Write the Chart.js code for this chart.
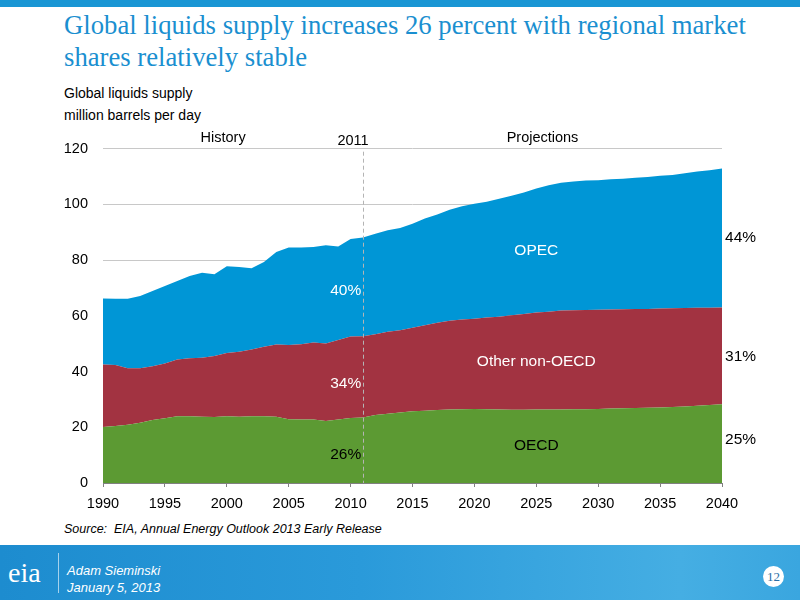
<!DOCTYPE html>
<html>
<head>
<meta charset="utf-8">
<script src="https://cdn.jsdelivr.net/npm/chart.js@4"></script>
<style>
  body { margin: 0; width: 800px; height: 600px; position: relative; overflow: hidden; background: #fff; font-family: "Liberation Sans", Arial, sans-serif; }
  .topbar { position: absolute; left: 0; top: 0; width: 800px; height: 7px; background: #1a96d4; }
  .title { position: absolute; left: 64px; top: 9px; font-family: "Liberation Serif", "Times New Roman", serif; font-size: 26.7px; line-height: 32px; color: #1a8fd0; }
  .ytitle { position: absolute; left: 64px; top: 82px; font-size: 14px; line-height: 22px; color: #000; }
  .source { position: absolute; left: 64px; top: 522px; font-size: 12.5px; font-style: italic; color: #000; }
  .footer { position: absolute; left: 0; top: 545px; width: 800px; height: 55px; background: linear-gradient(90deg, #1d8ccf 0%, #2a9ada 45%, #45aee3 85%, #3aa6df 100%); }
  .logo { position: absolute; left: 8px; top: 12px; font-family: "Liberation Serif", serif; font-size: 28px; color: #fff; }
  .sep { position: absolute; left: 58px; top: 8px; width: 1px; height: 40px; background: rgba(255,255,255,0.6); }
  .who { position: absolute; left: 67px; top: 17px; font-size: 13px; line-height: 17px; font-style: italic; color: #fff; }
  .page { position: absolute; left: 763px; top: 21px; width: 21px; height: 21px; border-radius: 50%; background: #fff; color: #2a6fa8; font-family: "Liberation Serif", serif; font-size: 13px; line-height: 21px; text-align: center; }
  .plot { position: absolute; left: 0; top: 125px; width: 800px; height: 395px; }
</style>
</head>
<body>
<div class="topbar"></div>
<div class="title">Global liquids supply increases 26 percent with regional market<br>shares relatively stable</div>
<div class="ytitle">Global liquids supply<br>million barrels per day</div>
<div class="plot">
  <canvas id="chart" width="800" height="395"></canvas>
</div>
<div class="source">Source:&nbsp; EIA, Annual Energy Outlook 2013 Early Release</div>
<div class="footer">
  <div class="logo">eia</div>
  <div class="sep"></div>
  <div class="who">Adam Sieminski<br>January 5, 2013</div>
  <div class="page">12</div>
</div>
<script>
// years shown on the chart, history to 2011 then projections
const years = [];
for (let y = 1990; y <= 2040; y++) years.push(y);

// million barrels per day
const oecd = [20.1, 20.5, 20.9, 21.6, 22.6, 23.2, 24.0, 24.0, 23.8, 23.7,
  24.0, 23.8, 24.0, 24.0, 23.8, 22.9, 22.8, 22.8, 22.3, 22.8,
  23.3, 23.5, 24.4, 24.9, 25.3, 25.8, 25.9, 26.2, 26.4, 26.5,
  26.6, 26.5, 26.4, 26.3, 26.3, 26.4, 26.4, 26.4, 26.5, 26.5,
  26.6, 26.7, 26.8, 26.9, 27.0, 27.1, 27.3, 27.5, 27.7, 28.0, 28.3];

const otherNonOecd = [22.4, 21.9, 20.3, 19.6, 19.3, 19.7, 20.3, 20.8, 21.2, 21.9,
  22.7, 23.3, 23.9, 24.9, 25.9, 26.6, 27.0, 27.6, 27.8, 28.5,
  29.3, 29.2, 29.0, 29.4, 29.5, 29.9, 30.7, 31.3, 31.8, 32.2,
  32.4, 32.9, 33.3, 33.9, 34.4, 34.8, 35.1, 35.5, 35.5, 35.6,
  35.6, 35.6, 35.6, 35.6, 35.5, 35.5, 35.4, 35.3, 35.2, 34.9, 34.7];

const opec = [23.7, 23.7, 24.9, 25.9, 27.0, 27.8, 28.2, 29.5, 30.5, 29.3,
  31.1, 30.4, 29.2, 30.4, 33.2, 35.0, 34.7, 34.3, 35.2, 33.6,
  35.0, 35.4, 36.1, 36.4, 36.7, 37.4, 38.3, 38.9, 39.9, 40.6,
  41.2, 41.6, 42.3, 42.9, 43.6, 44.5, 45.4, 45.9, 46.2, 46.5,
  46.5, 46.7, 46.8, 47.1, 47.3, 47.7, 47.9, 48.4, 48.9, 49.4, 49.9];

const yTicks = [0, 20, 40, 60, 80, 100, 120];
const xTicks = [1990, 1995, 2000, 2005, 2010, 2015, 2020, 2025, 2030, 2035, 2040];
const splitYear = 2011;

const toPoints = arr => arr.map((v, i) => ({ x: years[i], y: v }));

// text placed on the chart, in data units
const notes = [
  { text: "History", x: 1999.7, y: 124, color: "#000", size: 14.5 },
  { text: "2011", x: 2010.2, y: 122.6, color: "#000", size: 14.5 },
  { text: "Projections", x: 2025.5, y: 124, color: "#000", size: 14.5 },
  { text: "OPEC", x: 2025, y: 83.5, color: "#fff", size: 15.5 },
  { text: "Other non-OECD", x: 2025, y: 43.4, color: "#fff", size: 15.5 },
  { text: "OECD", x: 2025, y: 13.3, color: "#000", size: 15.5 },
  { text: "40%", x: 2009.6, y: 69.2, color: "#fff", size: 15.5 },
  { text: "34%", x: 2009.6, y: 35.8, color: "#fff", size: 15.5 },
  { text: "26%", x: 2009.6, y: 10, color: "#000", size: 15.5 },
  { text: "44%", x: 2041.5, y: 88.2, color: "#000", size: 15.5 },
  { text: "31%", x: 2041.5, y: 45.2, color: "#000", size: 15.5 },
  { text: "25%", x: 2041.5, y: 15.4, color: "#000", size: 15.5 }
];

const notesPlugin = {
  id: "notes",
  afterDatasetsDraw(chart) {
    const { ctx, scales: { x, y }, chartArea } = chart;
    ctx.save();
    // dashed divider between history and projections
    const sx = Math.round(x.getPixelForValue(splitYear)) + 0.5;
    ctx.strokeStyle = "#b4b4b4";
    ctx.lineWidth = 1;
    ctx.setLineDash([4, 3]);
    ctx.beginPath();
    ctx.moveTo(sx, chartArea.top + 3);
    ctx.lineTo(sx, chartArea.bottom);
    ctx.stroke();
    ctx.setLineDash([]);

    ctx.textAlign = "center";
    ctx.textBaseline = "middle";
    notes.forEach(n => {
      ctx.font = n.size + 'px "Liberation Sans", Arial, sans-serif';
      ctx.fillStyle = n.color;
      ctx.fillText(n.text, x.getPixelForValue(n.x), y.getPixelForValue(n.y));
    });
    ctx.restore();
  }
};

new Chart(document.getElementById("chart"), {
  type: "line",
  data: {
    datasets: [
      { label: "OECD", data: toPoints(oecd), backgroundColor: "#5c9a33", fill: "origin" },
      { label: "Other non-OECD", data: toPoints(otherNonOecd), backgroundColor: "#a23341", fill: "-1" },
      { label: "OPEC", data: toPoints(opec), backgroundColor: "#0096d6", fill: "-1" }
    ]
  },
  options: {
    responsive: false,
    animation: false,
    layout: { padding: { left: 0, right: 78, top: 23, bottom: 0 } },
    elements: {
      line: { borderWidth: 0, tension: 0 },
      point: { radius: 0 }
    },
    plugins: {
      legend: { display: false },
      tooltip: { enabled: false }
    },
    scales: {
      x: {
        type: "linear",
        min: 1990,
        max: 2040,
        afterBuildTicks: axis => { axis.ticks = xTicks.map(v => ({ value: v })); },
        afterFit: axis => { axis.height = 37; },
        ticks: {
          callback: v => String(v),
          color: "#000",
          font: { size: 14.5, family: '"Liberation Sans", Arial, sans-serif' },
          padding: 8,
          maxRotation: 0
        },
        grid: { drawOnChartArea: false, tickLength: 4, tickColor: "#808080" },
        border: { color: "#808080" }
      },
      y: {
        stacked: true,
        min: 0,
        max: 120,
        afterBuildTicks: axis => { axis.ticks = yTicks.map(v => ({ value: v })); },
        afterFit: axis => { axis.width = 103; },
        ticks: {
          color: "#000",
          font: { size: 14.5, family: '"Liberation Sans", Arial, sans-serif' },
          padding: 15
        },
        grid: { color: "#c8c8c8", drawTicks: false },
        border: { display: false }
      }
    }
  },
  plugins: [notesPlugin]
});
</script>
</body>
</html>
